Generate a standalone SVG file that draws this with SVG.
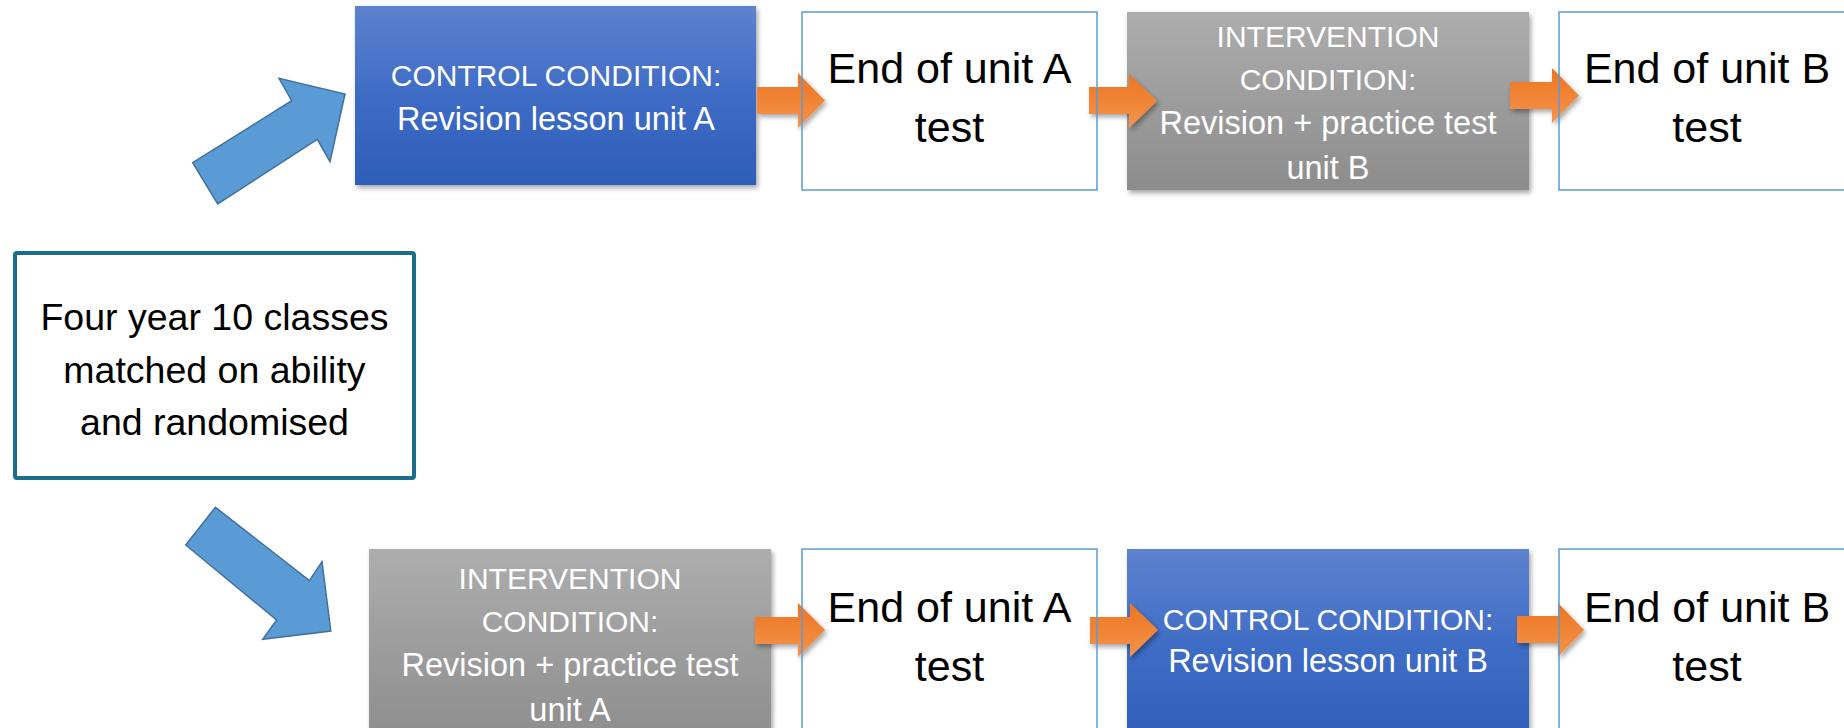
<svg xmlns="http://www.w3.org/2000/svg" width="1844" height="728" viewBox="0 0 1844 728">
<defs>
<linearGradient id="gBlue" x1="0" y1="0" x2="0" y2="1">
<stop offset="0" stop-color="#5D82CF"/>
<stop offset="0.5" stop-color="#3E6CC5"/>
<stop offset="1" stop-color="#2D5DB8"/>
</linearGradient>
<linearGradient id="gGray" x1="0" y1="0" x2="0" y2="1">
<stop offset="0" stop-color="#ADADAD"/>
<stop offset="1" stop-color="#8C8C8C"/>
</linearGradient>
<linearGradient id="gOrange" x1="0" y1="0" x2="0" y2="1">
<stop offset="0" stop-color="#EC7420"/>
<stop offset="1" stop-color="#F5944C"/>
</linearGradient>
<filter id="shadow" x="-10%" y="-10%" width="125%" height="130%">
<feDropShadow dx="2" dy="3" stdDeviation="2.5" flood-color="#000" flood-opacity="0.35"/>
</filter>
<style>
.t{font-family:"Liberation Sans",Arial,sans-serif;text-anchor:middle}
.big{font-size:43px;fill:#000}
.left{font-size:37.5px;fill:#000}
.caps{font-size:30px;fill:#fff}
.mix{font-size:32.5px;fill:#fff}
.endbox{fill:none;stroke:#5B9BD5;stroke-width:1.5}
.blue{fill:url(#gBlue);filter:url(#shadow)}
.gray{fill:url(#gGray);filter:url(#shadow)}
.oarrow{fill:url(#gOrange);filter:url(#shadow)}
.barrow{fill:#5B9BD5;stroke:#41719C;stroke-width:1.5;stroke-linejoin:miter}
</style>
</defs>
<rect width="1844" height="728" fill="#fff"/>

<g id="start">
<rect x="15" y="253" width="399" height="225" rx="2" fill="#fff" stroke="#1A6E8C" stroke-width="4"/>
<text class="t left" x="214.5" y="330">Four year 10 classes</text>
<text class="t left" x="214.5" y="383">matched on ability</text>
<text class="t left" x="214.5" y="435">and randomised</text>
</g>

<g id="control-a">
<rect class="blue" x="355" y="6" width="401" height="179"/>
<text class="t caps" x="556" y="86">CONTROL CONDITION:</text>
<text class="t mix" x="556" y="130">Revision lesson unit A</text>
</g>

<g id="intervention-b">
<rect class="gray" x="1127" y="12" width="402" height="178"/>
<text class="t caps" x="1328" y="47">INTERVENTION</text>
<text class="t caps" x="1328" y="90">CONDITION:</text>
<text class="t mix" x="1328" y="134">Revision + practice test</text>
<text class="t mix" x="1328" y="179">unit B</text>
</g>

<g id="intervention-a">
<rect class="gray" x="369" y="549" width="402" height="200"/>
<text class="t caps" x="570" y="589">INTERVENTION</text>
<text class="t caps" x="570" y="632">CONDITION:</text>
<text class="t mix" x="570" y="676">Revision + practice test</text>
<text class="t mix" x="570" y="721">unit A</text>
</g>

<g id="control-b">
<rect class="blue" x="1127" y="549" width="402" height="200"/>
<text class="t caps" x="1328" y="630">CONTROL CONDITION:</text>
<text class="t mix" x="1328" y="672">Revision lesson unit B</text>
</g>

<g id="connectors">
<polygon class="barrow" points="192.7,162.7 291.7,100.7 279,78.3 345,94 330,161.7 317.3,139.3 217.7,204"/>
<polygon class="barrow" points="185.7,545 215.4,507.3 309.5,580.7 322,561.7 330.8,631 262.8,639.3 276.6,620"/>
<polygon class="oarrow" points="757,87 798,87 798,73 825,100.5 798,128 798,114 757,114"/>
<polygon class="oarrow" points="1089,87 1129,87 1129,74 1157,101 1129,128 1129,114 1089,114"/>
<polygon class="oarrow" points="1510,82 1552,82 1552,68 1579,95.5 1552,123 1552,109 1510,109"/>
<polygon class="oarrow" points="755,617 798,617 798,603 825,630 798,657 798,644 755,644"/>
<polygon class="oarrow" points="1090,617 1130,617 1130,603 1158,630 1130,657 1130,644 1090,644"/>
<polygon class="oarrow" points="1517,616 1558,616 1558,603 1584,630 1558,657 1558,643 1517,643"/>
</g>

<g id="end-a-top">
<rect class="endbox" x="802" y="12" width="295" height="178"/>
<text class="t big" x="949.5" y="83">End of unit A</text>
<text class="t big" x="949.5" y="142">test</text>
</g>

<g id="end-b-top">
<rect class="endbox" x="1559" y="12" width="300" height="178"/>
<text class="t big" x="1707" y="83">End of unit B</text>
<text class="t big" x="1707" y="142">test</text>
</g>

<g id="end-a-bottom">
<rect class="endbox" x="802" y="549" width="295" height="200"/>
<text class="t big" x="949.5" y="622">End of unit A</text>
<text class="t big" x="949.5" y="681">test</text>
</g>

<g id="end-b-bottom">
<rect class="endbox" x="1559" y="549" width="300" height="200"/>
<text class="t big" x="1707" y="622">End of unit B</text>
<text class="t big" x="1707" y="681">test</text>
</g>
</svg>
